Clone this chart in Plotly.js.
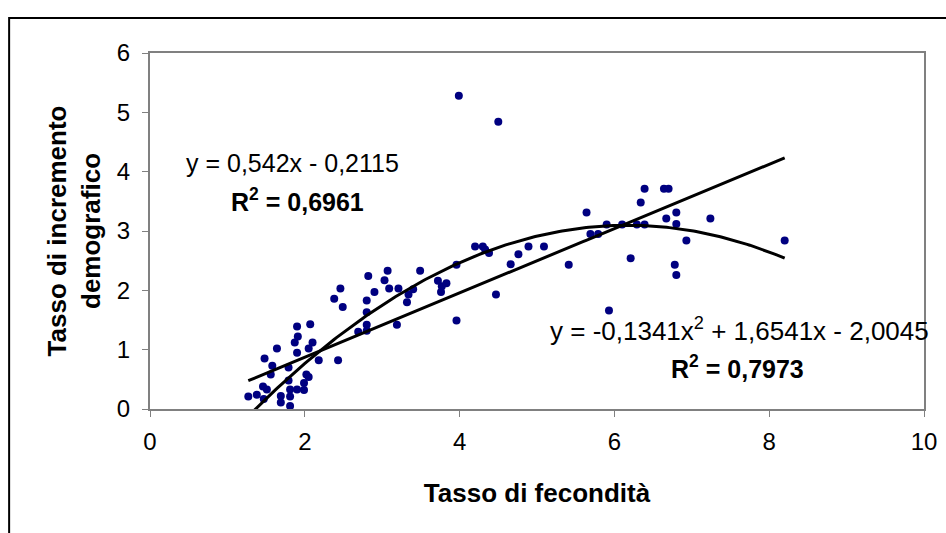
<!DOCTYPE html>
<html>
<head>
<meta charset="utf-8">
<script src="https://cdn.plot.ly/plotly-3.0.1.min.js"></script>
<style>
  html, body { margin: 0; padding: 0; background: #ffffff; }
  #chart { width: 946px; height: 533px; }
</style>
</head>
<body>
<div id="chart"></div>
<script>
// Tasso di fecondità (x) vs Tasso di incremento demografico (y)
var fecondita = [
  1.27, 1.38, 1.46, 1.51, 1.47, 1.48, 1.58, 1.56, 1.64, 1.69,
  1.69, 1.79, 1.79, 1.81, 1.81, 1.81, 1.87, 1.91, 1.90, 1.90,
  1.90, 1.99, 1.99, 2.02, 2.05, 2.05, 2.07, 2.10, 2.18, 2.43,
  2.38, 2.46, 2.49, 2.69, 2.80, 2.80, 2.80, 2.80, 2.82, 2.90,
  3.03, 3.07, 3.09, 3.21, 3.19, 3.34, 3.32, 3.40, 3.49, 3.72,
  3.83, 3.77, 3.76, 3.96, 3.96, 3.99, 4.20, 4.30, 4.33, 4.38,
  4.47, 4.50, 4.66, 4.76, 4.89, 5.09, 5.41, 5.64, 5.69, 5.79,
  5.90, 5.93, 6.10, 6.21, 6.29, 6.34, 6.39, 6.39, 6.64, 6.70,
  6.67, 6.80, 6.80, 6.78, 6.80, 6.93, 7.24, 8.20
];
var incremento = [
  0.21, 0.24, 0.38, 0.33, 0.17, 0.85, 0.73, 0.58, 1.02, 0.22,
  0.11, 0.70, 0.48, 0.33, 0.21, 0.05, 1.12, 1.22, 1.39, 0.95,
  0.33, 0.32, 0.44, 0.58, 0.54, 1.02, 1.43, 1.12, 0.82, 0.82,
  1.86, 2.03, 1.72, 1.30, 1.42, 1.32, 1.63, 1.83, 2.24, 1.97,
  2.17, 2.33, 2.03, 2.03, 1.42, 1.93, 1.80, 2.02, 2.33, 2.16,
  2.12, 2.07, 1.97, 2.43, 1.49, 5.28, 2.74, 2.74, 2.69, 2.63,
  1.93, 4.84, 2.44, 2.61, 2.74, 2.74, 2.43, 3.31, 2.95, 2.95,
  3.11, 1.66, 3.11, 2.54, 3.11, 3.48, 3.71, 3.11, 3.71, 3.71,
  3.21, 3.31, 3.12, 2.43, 2.26, 2.84, 3.21, 2.84
];

// Trendline coefficients as printed on the chart
var linCoef = [0.542, -0.2115];              // y = a x + b
var polyCoef = [-0.1341, 1.6541, -2.0045];   // y = a x^2 + b x + c

var xTicks = [0, 2, 4, 6, 8, 10];
var yTicks = [0, 1, 2, 3, 4, 5, 6];

var eqLin = 'y = 0,542x - 0,2115';
var r2Lin = '<b>R<sup>2</sup> = 0,6961</b>';
var eqPoly = 'y = -0,1341x<sup>2</sup> + 1,6541x - 2,0045';
var r2Poly = '<b>R<sup>2</sup> = 0,7973</b>';

var xTitle = 'Tasso di fecondità';
var yTitle = 'Tasso di incremento<br>demografico';

// trendline evaluation over the data's x span
var xMin = Math.min.apply(null, fecondita);
var xMax = Math.max.apply(null, fecondita);
var nSteps = 200;
var tx = [], linY = [], polyY = [];
for (var i = 0; i <= nSteps; i++) {
  var xv = xMin + (xMax - xMin) * i / nSteps;
  tx.push(xv);
  linY.push(linCoef[0] * xv + linCoef[1]);
  polyY.push(polyCoef[0] * xv * xv + polyCoef[1] * xv + polyCoef[2]);
}

var FONT = 'Liberation Sans, Arial, sans-serif';

var traces = [
  {
    x: fecondita, y: incremento, type: 'scatter', mode: 'markers',
    marker: { color: '#000080', size: 8 },
    hoverinfo: 'x+y', showlegend: false
  },
  {
    x: tx, y: linY, type: 'scatter', mode: 'lines',
    line: { color: '#000000', width: 3 }, showlegend: false, hoverinfo: 'skip'
  },
  {
    x: tx, y: polyY, type: 'scatter', mode: 'lines',
    line: { color: '#000000', width: 3 }, showlegend: false, hoverinfo: 'skip'
  }
];

var layout = {
  width: 946, height: 533,
  margin: { l: 150, r: 22, t: 53, b: 124 },
  paper_bgcolor: '#ffffff', plot_bgcolor: '#ffffff',
  font: { family: FONT, color: '#000000', size: 22 },
  showlegend: false,
  xaxis: {
    range: [0, 10], tickvals: xTicks, ticktext: xTicks.map(String),
    showgrid: false, zeroline: false,
    showline: true, linecolor: '#808080', linewidth: 2, mirror: true,
    ticks: 'outside', ticklen: 6, tickcolor: '#808080', tickwidth: 1,
    ticklabelstandoff: 4,
    tickfont: { family: FONT, size: 24, color: '#000000' },
    title: { text: '<b>' + xTitle + '</b>', font: { family: FONT, size: 26, color: '#000000' }, standoff: 30 }
  },
  yaxis: {
    range: [0, 6], tickvals: yTicks, ticktext: yTicks.map(String),
    showgrid: false, zeroline: false,
    showline: true, linecolor: '#808080', linewidth: 2, mirror: true,
    ticks: 'outside', ticklen: 6, tickcolor: '#808080', tickwidth: 1,
    ticklabelstandoff: 7,
    tickfont: { family: FONT, size: 24, color: '#000000' },
    title: { text: '<b>' + yTitle + '</b>', font: { family: FONT, size: 26, color: '#000000' }, standoff: 9 }
  },
  annotations: [
    { xref: 'paper', yref: 'paper', x: 0.184, y: 0.691, text: eqLin, showarrow: false,
      xanchor: 'center', yanchor: 'middle', font: { family: FONT, size: 25, color: '#000000' } },
    { xref: 'paper', yref: 'paper', x: 0.190, y: 0.587, text: r2Lin, showarrow: false,
      xanchor: 'center', yanchor: 'middle', font: { family: FONT, size: 25, color: '#000000' } },
    { xref: 'paper', yref: 'paper', x: 0.761, y: 0.222, text: eqPoly, showarrow: false,
      xanchor: 'center', yanchor: 'middle', font: { family: FONT, size: 26, color: '#000000' } },
    { xref: 'paper', yref: 'paper', x: 0.759, y: 0.118, text: r2Poly, showarrow: false,
      xanchor: 'center', yanchor: 'middle', font: { family: FONT, size: 25, color: '#000000' } }
  ],
  shapes: [
    { type: 'rect', xref: 'paper', yref: 'paper', x0: -0.182, x1: 1.1, y0: -0.5, y1: 1.098,
      line: { color: '#000000', width: 2 }, fillcolor: 'rgba(0,0,0,0)', layer: 'above' }
  ]
};

Plotly.newPlot('chart', traces, layout, { displayModeBar: false, staticPlot: true });
</script>
</body>
</html>
